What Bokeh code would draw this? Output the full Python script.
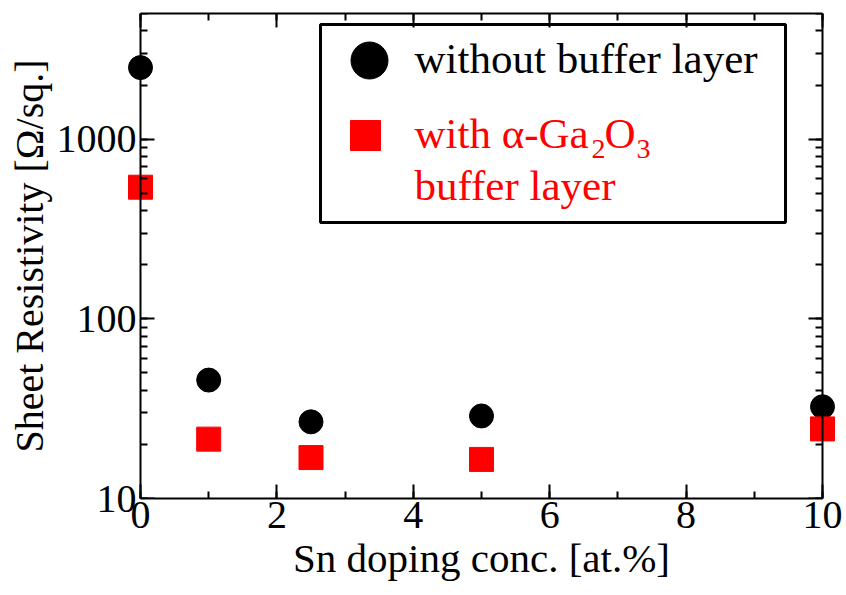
import math
from bokeh.plotting import figure
from bokeh.models import (LinearAxis, LogAxis, SingleIntervalTicker, LogTicker,
                          Range1d, BoxAnnotation, Label, PrintfTickFormatter,
                          CustomJSTickFormatter)
from bokeh.embed import file_html
from bokeh.resources import INLINE

# ---- data ----
sn_conc = [0, 1, 2.5, 5, 10]
without_buffer = [2500, 45.6, 26.7, 28.8, 32.4]
with_buffer = [540, 21.4, 16.9, 16.5, 24.4]
series_names = ["without buffer layer", "with \u03b1-Ga", "buffer layer"]
x_title = "Sn doping conc. [at.%]"
y_title = "Sheet Resistivity [\u03a9/sq.]"

FONT = "Liberation Serif"
X0, X1 = 0, 10
Y0, Y1 = 10, 5000
AL, AR, FT, FB = 140, 822, 13, 498      # axis box in pixels
PAD = 16                                 # extra frame room so edge markers are not cut
FL, FR = AL - PAD, AR + PAD
XPAD = PAD / (AR - AL) * (X1 - X0)

def px_x(px):
    return X0 + (px - AL) / (AR - AL) * (X1 - X0)

def px_y(py):
    l0, l1 = math.log10(Y0), math.log10(Y1)
    return 10 ** (l0 + (FB - py) / (FB - FT) * (l1 - l0))

p = figure(width=846, height=595, output_backend="svg", toolbar_location=None,
           x_range=Range1d(X0 - XPAD, X1 + XPAD), y_range=Range1d(Y0, Y1),
           y_axis_type="log", x_axis_location=None, y_axis_location=None,
           min_border_left=FL, min_border_right=846 - FR,
           min_border_top=FT, min_border_bottom=595 - FB)
p.grid.visible = False
p.outline_line_color = None
p.background_fill_color = "white"
p.border_fill_color = "white"

blank = CustomJSTickFormatter(code="return '';")

def style(ax, labels=True):
    ax.axis_line_width = 2
    ax.axis_line_color = "black"
    ax.major_tick_line_width = 2
    ax.minor_tick_line_width = 2
    ax.major_tick_in = 14
    ax.major_tick_out = 0
    ax.minor_tick_in = 7
    ax.minor_tick_out = 0
    ax.major_label_text_font = FONT
    ax.major_label_text_color = "black"
    ax.major_label_text_font_size = "40px"
    if not labels:
        ax.formatter = blank
        ax.major_label_standoff = 0
    ax.axis_label_text_font = FONT
    ax.axis_label_text_font_style = "normal"
    ax.axis_label_text_color = "black"

xb = LinearAxis(ticker=SingleIntervalTicker(interval=2, num_minor_ticks=2),
                axis_label=x_title, bounds=(X0, X1))
style(xb)
xb.axis_label_text_font_size = "41px"
xb.major_label_standoff = 3
xb.axis_label_standoff = 4
p.add_layout(xb, "below")

xt = LinearAxis(ticker=SingleIntervalTicker(interval=2, num_minor_ticks=2), bounds=(X0, X1))
style(xt, labels=False)
p.add_layout(xt, "above")

# left: labels in the side panel (line/ticks hidden), ticks drawn at x = 0
yl = LogAxis(ticker=LogTicker(num_minor_ticks=10), formatter=PrintfTickFormatter(format="%d"),
             axis_label=y_title)
style(yl)
yl.axis_line_color = None
yl.major_tick_line_color = None
yl.minor_tick_line_color = None
yl.axis_label_text_font_size = "40px"
yl.major_label_standoff = 4 - PAD
yl.axis_label_standoff = 2
p.add_layout(yl, "left")

yl2 = LogAxis(ticker=LogTicker(num_minor_ticks=10), fixed_location=X0)
style(yl2, labels=False)
p.add_layout(yl2, "left")

yr = LogAxis(ticker=LogTicker(num_minor_ticks=10), fixed_location=X1)
style(yr, labels=False)
p.add_layout(yr, "right")

p.scatter(sn_conc, without_buffer, marker="circle", size=24,
          fill_color="black", line_color="black")
p.scatter(sn_conc, with_buffer, marker="square", size=24,
          fill_color="red", line_color="red")

# ---- legend ----
p.add_layout(BoxAnnotation(left=px_x(320), right=px_x(785), top=px_y(24), bottom=px_y(222),
                           fill_color="white", fill_alpha=1.0,
                           line_color="black", line_alpha=1.0, line_width=3,
                           level="underlay"))

p.scatter([px_x(369)], [px_y(60)], marker="circle", size=37,
          fill_color="black", line_color="black")
p.scatter([px_x(365)], [px_y(135)], marker="square", size=30,
          fill_color="red", line_color="red")

def lab(text, x, y, size, color):
    p.add_layout(Label(x=px_x(x), y=px_y(y - 0.34 * size), text=text, text_font=FONT,
                       text_font_size=f"{size}px", text_color=color,
                       text_baseline="alphabetic", text_align="left"))

lab(series_names[0], 414, 73, 43, "black")
lab(series_names[1], 414, 148, 43, "red")
lab("2", 591, 158, 28, "red")
lab("O", 604, 148, 43, "red")
lab("3", 636, 158, 28, "red")
lab(series_names[2], 414, 200, 43, "red")

open("out.html", "w").write(file_html(p, INLINE))
